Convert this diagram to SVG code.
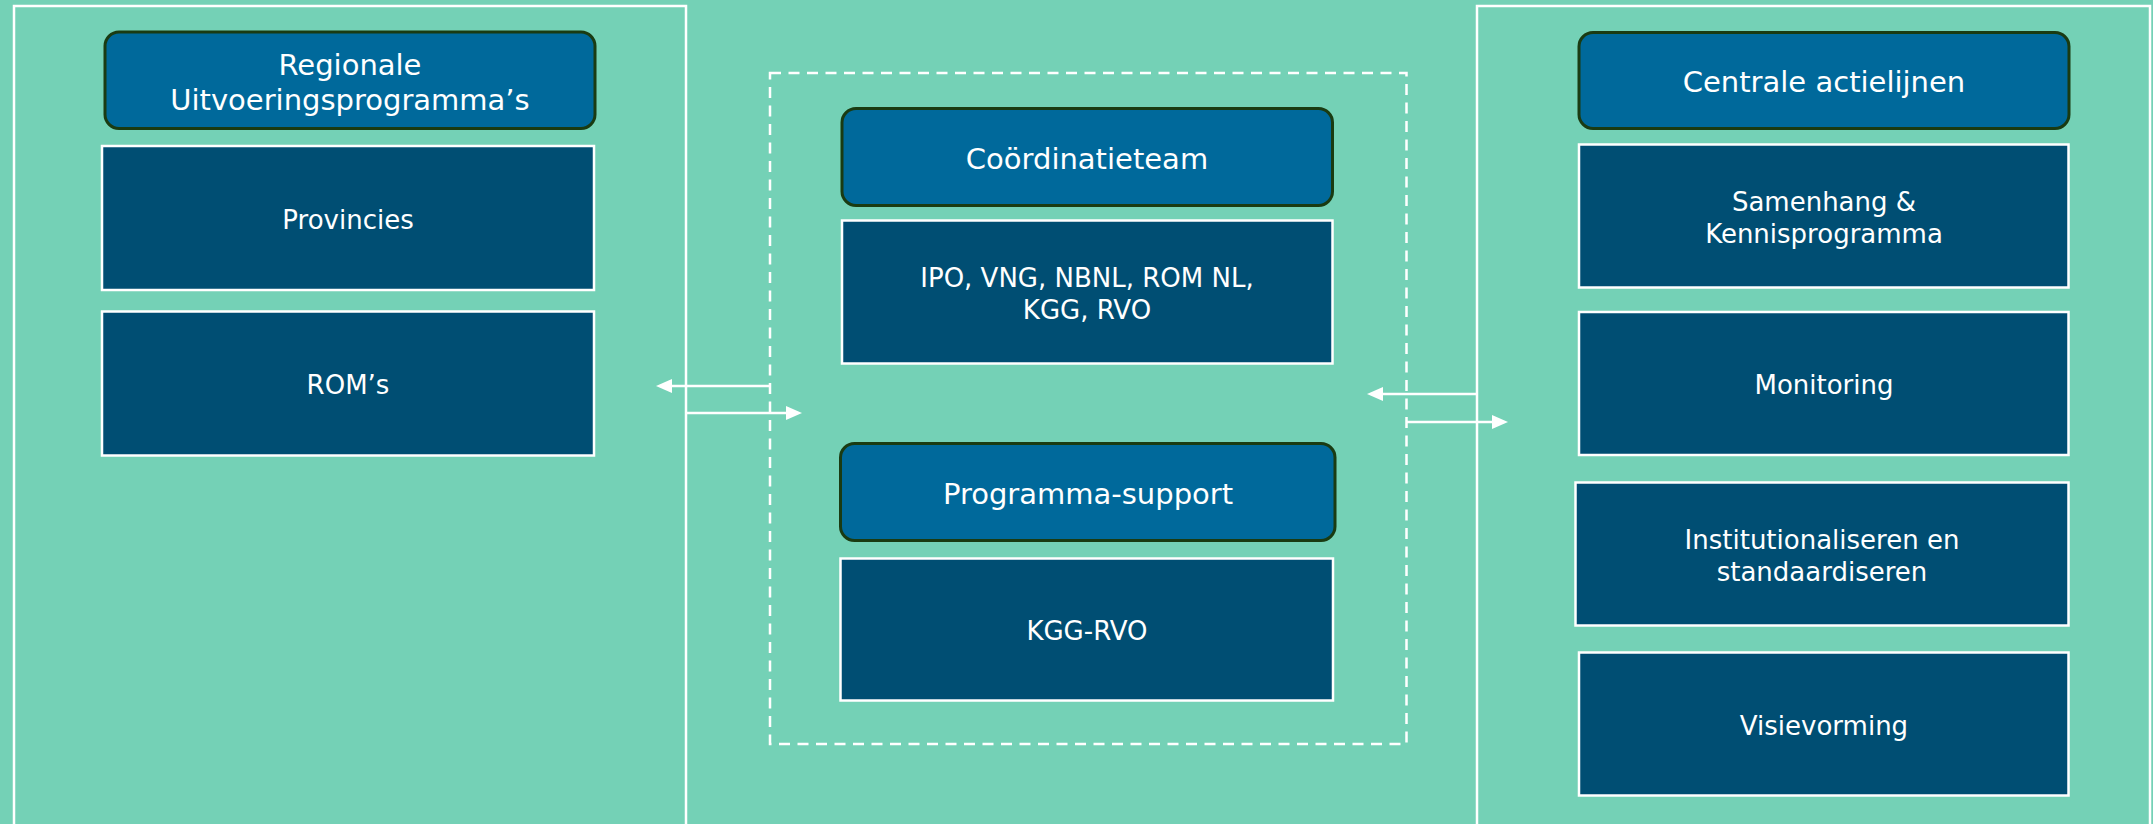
<svg xmlns="http://www.w3.org/2000/svg" width="2153" height="824" viewBox="0 0 2153 824">
  <style>
    .frame { fill: none; stroke: #FFFFFF; stroke-width: 2.5; }
    .dash { fill: none; stroke: #FFFFFF; stroke-width: 2.5; stroke-dasharray: 11 7.5; }
    .head { fill: #00699B; stroke: #1A3B12; stroke-width: 3; }
    .body { fill: #004E73; stroke: #FFFFFF; stroke-width: 2.5; }
    .ht { font-family: "DejaVu Sans", Verdana, sans-serif; font-size: 29px; fill: #FFFFFF; text-anchor: middle; }
    .bt { font-family: "DejaVu Sans", Verdana, sans-serif; font-size: 26px; fill: #FFFFFF; text-anchor: middle; }
    .conn { fill: none; stroke: #FFFFFF; stroke-width: 2.5; }
  </style>
  <defs>
    <marker id="arrow" viewBox="0 0 16 14" refX="0" refY="7" markerWidth="16" markerHeight="14" markerUnits="userSpaceOnUse" orient="auto">
      <path d="M0,0 L16,7 L0,14 Z" fill="#FFFFFF"/>
    </marker>
  </defs>

  <rect x="0" y="0" width="2153" height="824" fill="#74D1B6"/>

  <g id="frames">
    <rect id="frame-left" class="frame" x="14" y="6" width="672" height="900"/>
    <rect id="frame-right" class="frame" x="1477" y="6" width="673" height="900"/>
    <rect id="frame-center" class="dash" x="770" y="73" width="636.5" height="671"/>
  </g>

  <g id="regionale">
    <rect class="head" x="105" y="32" width="490" height="96.5" rx="14"/>
    <text class="ht" x="350" y="75">Regionale</text>
    <text class="ht" x="350" y="110">Uitvoeringsprogramma’s</text>
  </g>
  <g id="provincies">
    <rect class="body" x="102" y="146" width="492" height="144"/>
    <text class="bt" x="348" y="228.5">Provincies</text>
  </g>
  <g id="roms">
    <rect class="body" x="102" y="311.5" width="492" height="144"/>
    <text class="bt" x="348" y="394">ROM’s</text>
  </g>

  <g id="coordinatieteam">
    <rect class="head" x="842" y="108.5" width="490.5" height="97" rx="14"/>
    <text class="ht" x="1087" y="169">Coördinatieteam</text>
  </g>
  <g id="ipo">
    <rect class="body" x="842" y="220.5" width="490.5" height="143"/>
    <text class="bt" x="1087" y="287">IPO, VNG, NBNL, ROM NL,</text>
    <text class="bt" x="1087" y="318.5">KGG, RVO</text>
  </g>
  <g id="programma-support">
    <rect class="head" x="840.5" y="443.5" width="494.5" height="97" rx="14"/>
    <text class="ht" x="1088" y="503.5">Programma-support</text>
  </g>
  <g id="kgg-rvo">
    <rect class="body" x="840.5" y="558.5" width="492.5" height="142"/>
    <text class="bt" x="1087" y="639.5">KGG-RVO</text>
  </g>

  <g id="centrale">
    <rect class="head" x="1579" y="32.5" width="490" height="96" rx="14"/>
    <text class="ht" x="1824" y="92">Centrale actielijnen</text>
  </g>
  <g id="samenhang">
    <rect class="body" x="1579" y="144.5" width="489.5" height="143"/>
    <text class="bt" x="1824" y="211">Samenhang &amp;</text>
    <text class="bt" x="1824" y="243">Kennisprogramma</text>
  </g>
  <g id="monitoring">
    <rect class="body" x="1579" y="312" width="489.5" height="143"/>
    <text class="bt" x="1824" y="394">Monitoring</text>
  </g>
  <g id="institutionaliseren">
    <rect class="body" x="1575.5" y="482.5" width="493" height="143"/>
    <text class="bt" x="1822" y="549">Institutionaliseren en</text>
    <text class="bt" x="1822" y="581">standaardiseren</text>
  </g>
  <g id="visievorming">
    <rect class="body" x="1579" y="652.5" width="489.5" height="143"/>
    <text class="bt" x="1824" y="734.5">Visievorming</text>
  </g>

  <g id="connectors">
    <path class="conn" d="M770,386 L672,386" marker-end="url(#arrow)"/>
    <path class="conn" d="M686,413 L786,413" marker-end="url(#arrow)"/>
    <path class="conn" d="M1477,394 L1383,394" marker-end="url(#arrow)"/>
    <path class="conn" d="M1406,422 L1492,422" marker-end="url(#arrow)"/>
  </g>
</svg>
